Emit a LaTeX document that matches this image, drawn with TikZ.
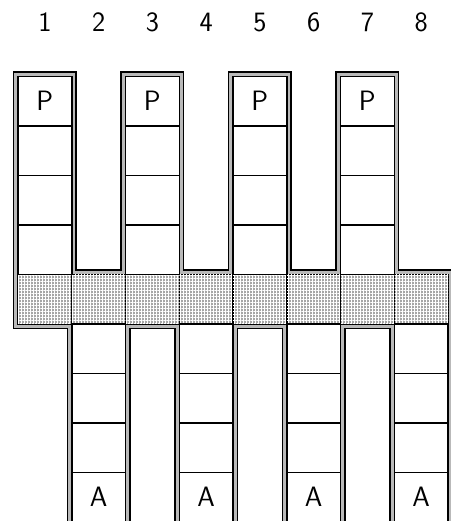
\documentclass[tikz,border=0pt]{standalone}
\usepackage{tikz}
\usetikzlibrary{patterns.meta}
\usetikzlibrary{positioning}
\newcommand{\cw}{53.75}
\newcommand{\ch}{49.5}
\newcommand{\xo}{18}
\newcommand{\yt}{76.5}
\tikzset{
  cell/.style={draw, fill=white, rectangle, minimum width=\cw pt, minimum height=\ch pt,
    inner sep=0pt, outer sep=0pt, anchor=north west},
  meshcell/.style={fill=gray!70,
    postaction={pattern={Hatch[angle=0, distance=3pt, line width=0.9pt]}, pattern color=white}},
  outline/.style={draw=black, double=gray!55, double distance=7.4pt, line width=1.5pt, line join=miter}
}

\begin{document}
\begin{tikzpicture}[x=1pt, y=-1pt, line width=1.5pt, every node/.style={font=\fontsize{28}{32}\selectfont\sffamily}]
  \useasboundingbox (0,0) rectangle (450,521);

  % double border round the whole comb
  \draw[outline] (\xo,\yt)
    \foreach \i in {0,2,4} {
      -- ({\xo+(\i+1)*\cw},\yt) -- ({\xo+(\i+1)*\cw},{\yt+4*\ch})
      -- ({\xo+(\i+2)*\cw},{\yt+4*\ch}) -- ({\xo+(\i+2)*\cw},\yt)
    }
    -- ({\xo+7*\cw},\yt) -- ({\xo+7*\cw},{\yt+4*\ch})
    -- ({\xo+8*\cw},{\yt+4*\ch}) -- ({\xo+8*\cw},{\yt+9*\ch})
    \foreach \i in {8,6,4} {
      -- ({\xo+(\i-1)*\cw},{\yt+9*\ch}) -- ({\xo+(\i-1)*\cw},{\yt+5*\ch})
      -- ({\xo+(\i-2)*\cw},{\yt+5*\ch}) -- ({\xo+(\i-2)*\cw},{\yt+9*\ch})
    }
    -- ({\xo+\cw},{\yt+9*\ch}) -- ({\xo+\cw},{\yt+5*\ch})
    -- (\xo,{\yt+5*\ch}) -- cycle;

  % column numbers
  \foreach \i in {1,...,8} {
    \node[anchor=base] (num\i) at ({\xo+(\i-0.5)*\cw}, 32) {\i};
  }

  % shaded middle row
  \foreach \i in {1,...,8} {
    \node[cell, meshcell] (m\i) at ({\xo+(\i-1)*\cw}, {\yt+4*\ch}) {};
  }

  % upper columns
  \foreach \i in {1,3,5,7} {
    \node[cell] (p\i) at ({\xo+(\i-1)*\cw}, \yt) {P};
    \foreach \r in {1,2,3}
      \node[cell] (p\i-\r) at ({\xo+(\i-1)*\cw}, {\yt+\r*\ch}) {};
  }

  % lower columns
  \foreach \i in {2,4,6,8} {
    \foreach \r in {5,6,7}
      \node[cell] (a\i-\r) at ({\xo+(\i-1)*\cw}, {\yt+\r*\ch}) {};
    \node[cell] (a\i) at ({\xo+(\i-1)*\cw}, {\yt+8*\ch}) {A};
  }

\end{tikzpicture}
\end{document}
